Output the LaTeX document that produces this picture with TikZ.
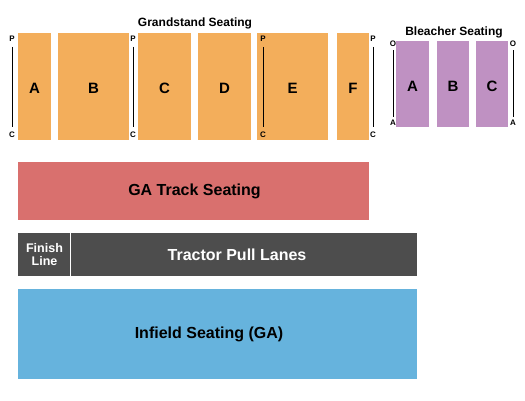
\documentclass[tikz,border=0pt]{standalone}
\usepackage{fontspec}
\setmainfont{Liberation Sans}
\definecolor{gs}{HTML}{F3AE5B}
\definecolor{bl}{HTML}{BF91C2}
\definecolor{ga}{HTML}{D9706E}
\definecolor{tp}{HTML}{4D4D4D}
\definecolor{inf}{HTML}{66B3DD}
\begin{document}
\begin{tikzpicture}[x=1pt,y=-1pt,
  sec/.style={font=\bfseries\fontsize{15}{15}\selectfont,text=black},
  mk/.style={font=\bfseries\fontsize{8}{8}\selectfont,inner sep=0pt},
  big/.style={font=\bfseries\fontsize{16}{16}\selectfont},
  ttl/.style={font=\bfseries\fontsize{12}{12}\selectfont}]
\useasboundingbox (0,0) rectangle (525,400);
% grandstand
\foreach \n/\a/\b in {A/18/51,B/58/129,C/138/191,D/198/251,E/257/328,F/337/369}{
  \fill[gs] (\a,33) rectangle (\b,140);
  \node[sec] (g\n) at ({(\a+\b)/2},88) {\n};
}
\node[ttl] (gt) at (195,23) {Grandstand Seating};
% bleacher
\foreach \n/\a/\b in {A/396/429,B/437/469,C/476/508}{
  \fill[bl] (\a,41) rectangle (\b,127);
  \node[sec] (b\n) at ({(\a+\b)/2},86) {\n};
}
\node[ttl] (bt) at (454,32) {Bleacher Seating};
% P/C markers
\foreach \i/\x in {1/12,2/133,3/263,4/373}{
  \node[mk] (p\i) at (\x,39) {P};
  \node[mk] (c\i) at (\x,135) {C};
  \draw[line width=1pt] ([yshift=-5pt]p\i.south) -- ([yshift=5pt]c\i.north);
}
\foreach \i/\x in {1/393,2/513}{
  \node[mk] (o\i) at (\x,44) {O};
  \node[mk] (a\i) at (\x,123) {A};
  \draw[line width=1pt] ([yshift=-3pt]o\i.south) -- ([yshift=3pt]a\i.north);
}
% GA track
\fill[ga] (18,162) rectangle (369,220);
\node[big] (gat) at (194.5,191) {GA Track Seating};
% tractor
\fill[tp] (18,233) rectangle (417,276);
\draw[white,line width=1pt] (70,233) -- (70,276);
\node[font=\bfseries\fontsize{12.5}{13}\selectfont,text=white,align=center] (fl) at (44.5,254.5) {Finish\\Line};
\node[big,text=white] (tpl) at (237,254.5) {Tractor Pull Lanes};
% infield
\fill[inf] (18,289) rectangle (417,379);
\node[big] (inf) at (209,334) {Infield Seating (GA)};
\end{tikzpicture}
\end{document}
